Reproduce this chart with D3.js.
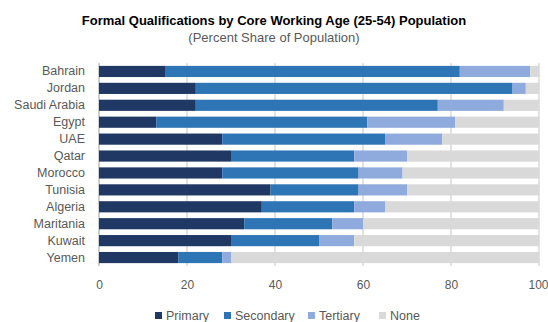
<!DOCTYPE html>
<html><head><meta charset="utf-8">
<script src="https://cdn.jsdelivr.net/npm/d3@7"></script>
<style>body{margin:0;background:#fff;}svg{display:block;font-family:"Liberation Sans",Arial,sans-serif;}</style>
</head><body>
<svg id="c" width="548" height="322"></svg>
<script>
const countries = ["Bahrain","Jordan","Saudi Arabia","Egypt","UAE","Qatar","Morocco","Tunisia","Algeria","Maritania","Kuwait","Yemen"];
const primary   = [15, 22, 22, 13, 28, 30, 28, 39, 37, 33, 30, 18];
const secondary = [67, 72, 55, 48, 37, 28, 31, 20, 21, 20, 20, 10];
const tertiary  = [16,  3, 15, 20, 13, 12, 10, 11,  7,  7,  8,  2];
const none      = [ 2,  3,  8, 19, 22, 30, 31, 30, 35, 40, 42, 70];
const seriesNames = ["Primary","Secondary","Tertiary","None"];
const seriesColors = ["#203864","#2e75b6","#8faadc","#d9d9d9"];
const xTicks = [0,20,40,60,80,100];

const rows = countries.map((c,i)=>({country:c, Primary:primary[i], Secondary:secondary[i], Tertiary:tertiary[i], None:none[i]}));
const stack = d3.stack().keys(seriesNames)(rows);

const svg = d3.select("#c");
const m = {left:99, right:539, top:63, bottom:266};
const x = d3.scaleLinear().domain([0,100]).range([m.left, m.right]);
const y = d3.scaleBand().domain(countries).range([m.top, m.bottom]).paddingInner(0.34).paddingOuter(0.17);

// title
svg.append("text").attr("x",274).attr("y",25).attr("text-anchor","middle")
  .attr("font-size",13).attr("font-weight","bold").attr("fill","#000")
  .text("Formal Qualifications by Core Working Age (25-54) Population");
svg.append("text").attr("x",274).attr("y",42).attr("text-anchor","middle")
  .attr("font-size",13).attr("fill","#595959")
  .text("(Percent Share of Population)");

// gridlines
svg.append("g").selectAll("line").data(xTicks).join("line")
  .attr("x1",d=>x(d)).attr("x2",d=>x(d)).attr("y1",m.top).attr("y2",m.bottom)
  .attr("stroke",d=>d===0?"#bfbfbf":"#d9d9d9").attr("stroke-width",1.5);

// bars
svg.append("g").selectAll("g").data(stack).join("g")
  .attr("fill",(d,i)=>seriesColors[i])
  .selectAll("rect").data(d=>d).join("rect")
  .attr("x",d=>x(d[0])).attr("width",d=>x(d[1])-x(d[0]))
  .attr("y",d=>y(d.data.country)).attr("height",y.bandwidth());

// y labels
const yAxis = d3.axisLeft(y).tickSize(0).tickPadding(14);
const gy = svg.append("g").attr("transform",`translate(${m.left},0)`).call(yAxis);
gy.select(".domain").remove();
gy.selectAll("text").attr("font-size",12.5).attr("fill","#595959").style("font-family","'Liberation Sans',Arial,sans-serif");

// x labels
const xAxis = d3.axisBottom(x).tickValues(xTicks).tickSize(0).tickPadding(14);
const gx = svg.append("g").attr("transform",`translate(0,${m.bottom})`).call(xAxis);
gx.select(".domain").remove();
gx.selectAll("text").attr("font-size",12).attr("fill","#595959").style("font-family","'Liberation Sans',Arial,sans-serif");
gx.selectAll(".tick").filter(d=>d===100).select("text").attr("dx",-1);

// legend
const legX = [155,224,308,379];
const leg = svg.append("g").selectAll("g").data(seriesNames).join("g")
  .attr("transform",(d,i)=>`translate(${legX[i]},312)`);
leg.append("rect").attr("width",7).attr("height",7).attr("y",0).attr("fill",(d,i)=>seriesColors[i]);
leg.append("text").attr("x",11).attr("y",8).attr("font-size",12.5).attr("fill","#595959").text(d=>d);
</script>
</body></html>
